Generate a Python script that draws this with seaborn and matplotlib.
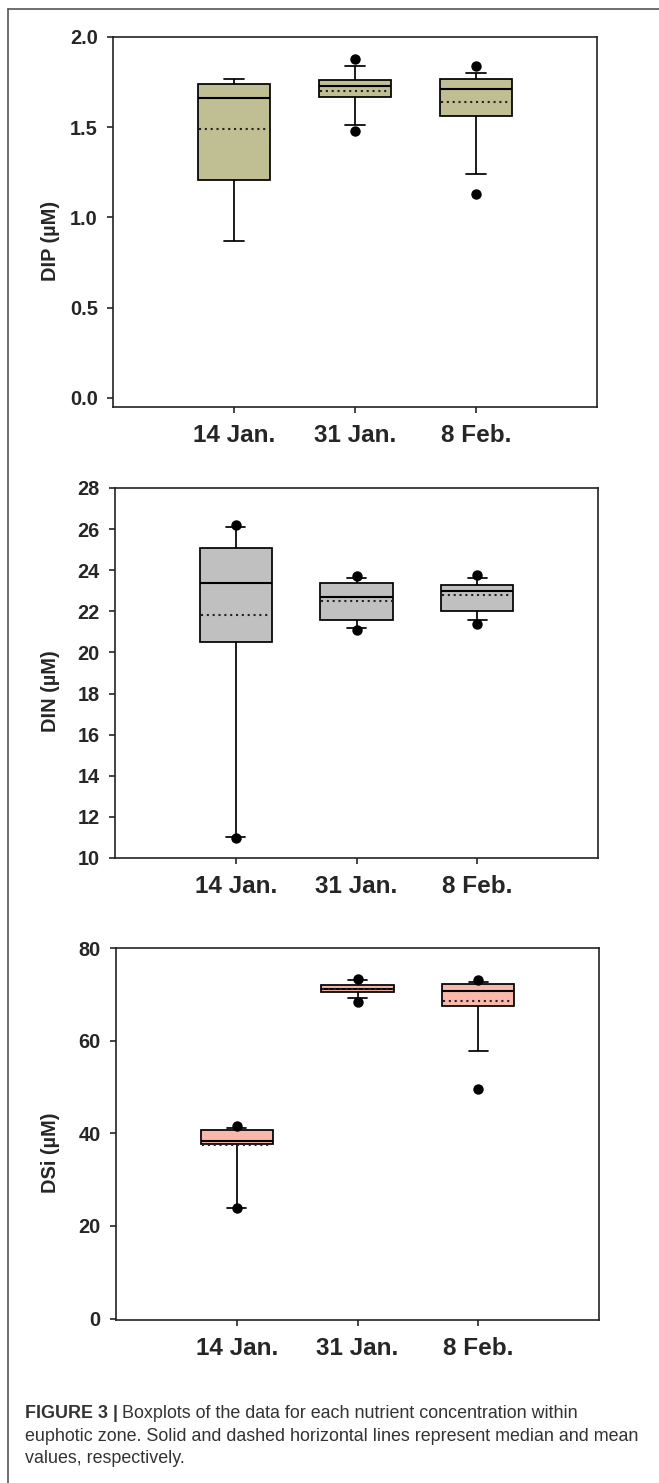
import seaborn as sns
import matplotlib.pyplot as plt
import pandas as pd
from matplotlib.lines import Line2D

# 采样日期
dates = ['14 Jan.', '31 Jan.', '8 Feb.']

# DIP (µM): 下须, Q1, 中位数, Q3, 上须, 均值, 离群点
dip_lo = [0.87, 1.51, 1.24]
dip_q1 = [1.21, 1.67, 1.56]
dip_med = [1.66, 1.73, 1.71]
dip_q3 = [1.74, 1.76, 1.77]
dip_hi = [1.77, 1.84, 1.80]
dip_mean = [1.49, 1.70, 1.64]
dip_out = [[], [1.48, 1.88], [1.13, 1.84]]

# DIN (µM)
din_lo = [11.0, 21.2, 21.6]
din_q1 = [20.5, 21.6, 22.0]
din_med = [23.4, 22.7, 23.0]
din_q3 = [25.1, 23.4, 23.3]
din_hi = [26.1, 23.6, 23.6]
din_mean = [21.8, 22.5, 22.8]
din_out = [[10.97, 26.2], [21.1, 23.7], [21.4, 23.75]]

# DSi (µM)
dsi_lo = [23.8, 69.3, 57.7]
dsi_q1 = [37.6, 70.4, 67.4]
dsi_med = [38.4, 71.2, 70.8]
dsi_q3 = [40.7, 72.0, 72.3]
dsi_hi = [41.2, 73.1, 72.7]
dsi_mean = [37.5, 71.1, 68.5]
dsi_out = [[23.8, 41.6], [68.4, 73.4], [49.6, 73.0]]

sns.set_style('ticks')
plt.rcParams['font.family'] = ['Liberation Sans', 'DejaVu Sans']
plt.rcParams['font.weight'] = 'bold'
plt.rcParams['axes.labelweight'] = 'bold'
plt.rcParams['axes.linewidth'] = 1.2
plt.rcParams['xtick.major.width'] = 1.2
plt.rcParams['ytick.major.width'] = 1.2

fig = plt.figure(figsize=(6.59, 14.83), dpi=100)

panels = [
    (dip_lo, dip_q1, dip_med, dip_q3, dip_hi, dip_mean, dip_out,
     '#c0be93', 'DIP (\u00b5M)', (-0.05, 2.0), [0.0, 0.5, 1.0, 1.5, 2.0], '{:.1f}',
     [113, 37, 484, 370]),
    (din_lo, din_q1, din_med, din_q3, din_hi, din_mean, din_out,
     '#c0c0c0', 'DIN (\u00b5M)', (10, 28), list(range(10, 29, 2)), '{:d}',
     [115, 488, 483, 370]),
    (dsi_lo, dsi_q1, dsi_med, dsi_q3, dsi_hi, dsi_mean, dsi_out,
     '#f9b8aa', 'DSi (\u00b5M)', (-0.3, 80), [0, 20, 40, 60, 80], '{:d}',
     [116, 948, 483, 372]),
]

W, H = 659, 1483
for lo, q1, med, q3, hi, mean, out, color, ylabel, ylim, yticks, fmt, box in panels:
    left, top, w, h = box
    ax = fig.add_axes([left / W, 1 - (top + h) / H, w / W, h / H])

    # 每组 5 个值即可让箱体/须线精确落在读取的统计量上
    rows = []
    for i, d in enumerate(dates):
        for v in (lo[i], q1[i], med[i], q3[i], hi[i]):
            rows.append({'date': d, 'value': v})
    df = pd.DataFrame(rows)

    sns.boxplot(data=df, x='date', y='value', order=dates, ax=ax,
                color=color, saturation=1, width=0.6, whis=(0, 100),
                linecolor='black', linewidth=1.25, capwidths=0.16,
                medianprops={'color': 'black', 'linewidth': 1.5})

    # 均值（虚线）
    for i in range(len(dates)):
        ax.hlines(mean[i], i - 0.29, i + 0.29, colors='#222222',
                  linestyles=(0, (1, 1.8)), linewidth=1.5, zorder=5)

    # 离群点
    odf = pd.DataFrame([{'date': d, 'value': v}
                        for d, vals in zip(dates, out) for v in vals])
    sns.stripplot(data=odf, x='date', y='value', order=dates, ax=ax,
                  jitter=False, color='black', size=7.5, zorder=6)

    ax.set_xlim(-1, 3)
    ax.set_ylim(*ylim)
    ax.set_yticks(yticks)
    ax.set_yticklabels([fmt.format(t) for t in yticks])
    ax.set_xlabel('')
    ax.set_ylabel(ylabel, fontsize=14.4)
    ax.yaxis.set_label_coords((60 - left) / w, 0.45)
    ax.tick_params(axis='y', labelsize=14.4, length=4.5, pad=6.5, direction='out')
    ax.tick_params(axis='x', labelsize=17.5, length=4.5, pad=7.5, direction='out')
    for s in ax.spines.values():
        s.set_color('#222222')

# 外框线
fig.add_artist(Line2D([8 / W, 8 / W], [0, 1 - 9 / H], color='#555555', lw=1.2))
fig.add_artist(Line2D([8 / W, 1], [1 - 9 / H, 1 - 9 / H], color='#555555', lw=1.2))

# 图注
cap_kw = dict(family=['Liberation Sans'], color='#333333',
              fontsize=12.9, va='baseline', ha='left')
renderer = fig.canvas.get_renderer()
t1 = fig.text(25 / W, 1 - 1418 / H, 'FIGURE 3 |', weight='bold', **cap_kw)
bb = t1.get_window_extent(renderer)
fig.text(bb.x1 / W + 4 / W, 1 - 1418 / H,
         'Boxplots of the data for each nutrient concentration within',
         weight='normal', **cap_kw)
fig.text(25 / W, 1 - 1441 / H,
         'euphotic zone. Solid and dashed horizontal lines represent median and mean',
         weight='normal', **cap_kw)
fig.text(25 / W, 1 - 1463 / H, 'values, respectively.', weight='normal', **cap_kw)

plt.savefig('out.png', dpi=100)
